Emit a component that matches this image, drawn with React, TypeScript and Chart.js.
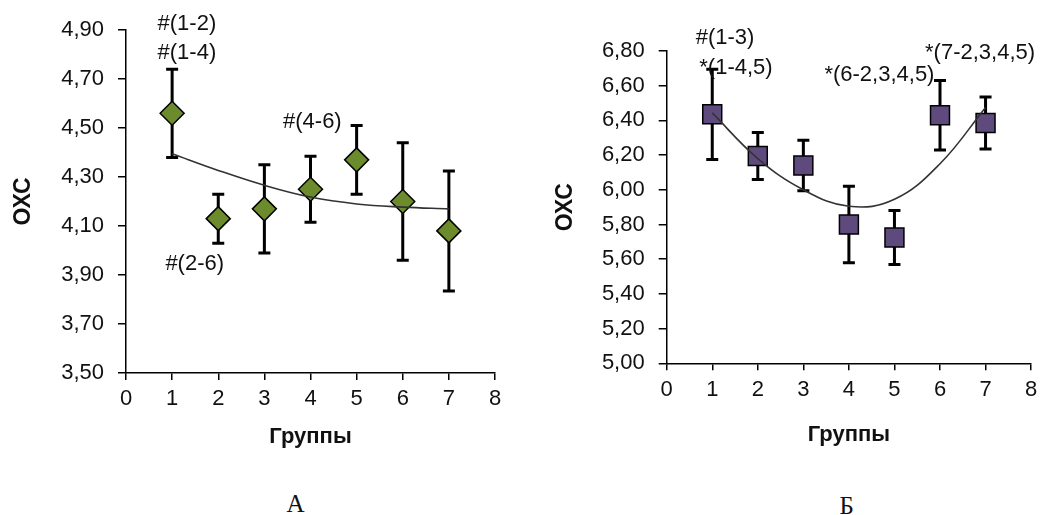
import React, { useEffect, useRef } from "react";
import { Chart, registerables } from "chart.js";

Chart.register(...registerables);

const FONT = '"Liberation Sans", Arial, Helvetica, sans-serif';
const SERIF = '"Liberation Serif", "Times New Roman", serif';

// ---- data ----
const groups = [1, 2, 3, 4, 5, 6, 7];

const oxcA = [4.56, 4.13, 4.17, 4.25, 4.37, 4.2, 4.08];
const errA = [0.18, 0.1, 0.18, 0.135, 0.14, 0.24, 0.245];
const trendA = [4.395, 4.327, 4.266, 4.218, 4.19, 4.177, 4.17];
const yTicksA = { min: 3.5, max: 4.9, step: 0.2 };
const notesTextA = ["#(1-2)", "#(1-4)", "#(4-6)", "#(2-6)"];
const notesXA = [1.32, 1.32, 4.04, 1.49];
const notesYA = [4.925, 4.806, 4.525, 3.946];

const oxcB = [6.435, 6.195, 6.14, 5.8, 5.725, 6.43, 6.385];
const errB = [0.26, 0.135, 0.145, 0.22, 0.155, 0.2, 0.15];
const trendB = [6.443, 6.18, 6.0, 5.905, 5.945, 6.15, 6.475];
const yTicksB = { min: 5.0, max: 6.8, step: 0.2 };
const notesTextB = ["#(1-3)", "*(1-4,5)", "*(6-2,3,4,5)", "*(7-2,3,4,5)"];
const notesXB = [1.28, 1.52, 4.67, 6.88];
const notesYB = [6.875, 6.702, 6.662, 6.787];

type PanelProps = {
  values: number[];
  errors: number[];
  trend: number[];
  yr: { min: number; max: number; step: number };
  notesText: string[];
  notesX: number[];
  notesY: number[];
  color: string;
  pointStyle: string;
  radius: number;
  left: number;
  width: number;
  height: number;
  padTop: number;
  padRight: number;
  yAxisWidth: number;
  xAxisHeight: number;
  yTitlePad: number;
  xTitlePad: number;
};

function Panel(p: PanelProps) {
  const ref = useRef<HTMLCanvasElement | null>(null);
  useEffect(() => {
    if (!ref.current) return;
    const errorBars = {
      id: "errorBars",
      beforeDatasetsDraw(chart: any) {
        const { ctx } = chart;
        const x = chart.scales.x;
        const y = chart.scales.y;
        ctx.save();
        ctx.strokeStyle = "#000";
        ctx.lineWidth = 3;
        p.values.forEach((v, i) => {
          const px = x.getPixelForValue(groups[i]);
          const top = y.getPixelForValue(v + p.errors[i]);
          const bot = y.getPixelForValue(v - p.errors[i]);
          ctx.beginPath();
          ctx.moveTo(px, top);
          ctx.lineTo(px, bot);
          ctx.moveTo(px - 6, top);
          ctx.lineTo(px + 6, top);
          ctx.moveTo(px - 6, bot);
          ctx.lineTo(px + 6, bot);
          ctx.stroke();
        });
        ctx.restore();
      },
    };
    const notes = {
      id: "notes",
      afterDraw(chart: any) {
        const { ctx } = chart;
        const x = chart.scales.x;
        const y = chart.scales.y;
        ctx.save();
        ctx.font = `22px ${FONT}`;
        ctx.fillStyle = "#111";
        ctx.textAlign = "center";
        ctx.textBaseline = "middle";
        p.notesText.forEach((t, i) => {
          ctx.fillText(t, x.getPixelForValue(p.notesX[i]), y.getPixelForValue(p.notesY[i]));
        });
        ctx.restore();
      },
    };
    const chart = new Chart(ref.current, {
      type: "scatter",
      data: {
        datasets: [
          {
            type: "line",
            data: groups.map((g, i) => ({ x: g, y: p.trend[i] })),
            borderColor: "#333",
            borderWidth: 1.6,
            pointRadius: 0,
            tension: 0.4,
            fill: false,
            order: 0,
          } as any,
          {
            data: groups.map((g, i) => ({ x: g, y: p.values[i] })),
            pointStyle: p.pointStyle as any,
            pointRadius: p.radius,
            pointBackgroundColor: p.color,
            pointBorderColor: "#000",
            pointBorderWidth: 1.5,
            showLine: false,
            order: 1,
          },
        ],
      },
      options: {
        responsive: false,
        animation: false,
        events: [],
        layout: { padding: { left: 0, top: p.padTop, right: p.padRight, bottom: 0 } },
        plugins: { legend: { display: false }, tooltip: { enabled: false } },
        scales: {
          x: {
            type: "linear",
            min: 0,
            max: 8,
            ticks: { stepSize: 1, padding: 6, color: "#111", font: { family: FONT, size: 22 } },
            grid: { display: true, drawOnChartArea: false, drawTicks: true, tickLength: 7, color: "#000", lineWidth: 1.5 },
            border: { display: true, color: "#000", width: 1.5 },
            title: {
              display: true,
              text: "Группы",
              color: "#111",
              font: { family: FONT, size: 22, weight: "bold" },
              padding: { top: 0, bottom: p.xTitlePad },
            },
            afterFit: (s: any) => {
              s.height = p.xAxisHeight;
            },
          },
          y: {
            type: "linear",
            min: p.yr.min,
            max: p.yr.max,
            ticks: {
              stepSize: p.yr.step,
              padding: 14,
              color: "#111",
              font: { family: FONT, size: 22 },
              callback: (v: any) => Number(v).toFixed(2).replace(".", ","),
            },
            grid: { display: true, drawOnChartArea: false, drawTicks: true, tickLength: 8, color: "#000", lineWidth: 1.5 },
            border: { display: true, color: "#000", width: 1.5 },
            title: {
              display: true,
              text: "ОХС",
              color: "#111",
              font: { family: FONT, size: 23, weight: "bold" },
              padding: { top: p.yTitlePad, bottom: 0 },
            },
            afterFit: (s: any) => {
              s.width = p.yAxisWidth;
            },
          },
        },
      },
      plugins: [errorBars, notes],
    } as any);
    return () => chart.destroy();
  }, []);
  return (
    <canvas
      ref={ref}
      width={p.width}
      height={p.height}
      style={{ position: "absolute", left: p.left, top: 0, width: p.width, height: p.height }}
    />
  );
}

export default function App() {
  return (
    <div style={{ position: "fixed", left: 0, top: 0, width: 1046, height: 515, background: "#fff", overflow: "hidden" }}>
      <Panel
        values={oxcA}
        errors={errA}
        trend={trendA}
        yr={yTicksA}
        notesText={notesTextA}
        notesX={notesXA}
        notesY={notesYA}
        color="#6b8b2d"
        pointStyle="rectRot"
        radius={12}
        left={0}
        width={530}
        height={470}
        padTop={30}
        padRight={35}
        yAxisWidth={126}
        xAxisHeight={97}
        yTitlePad={9.5}
        xTitlePad={19.8}
      />
      <Panel
        values={oxcB}
        errors={errB}
        trend={trendB}
        yr={yTicksB}
        notesText={notesTextB}
        notesX={notesXB}
        notesY={notesYB}
        color="#5f4a7e"
        pointStyle="rect"
        radius={13.4}
        left={540}
        width={506}
        height={470}
        padTop={51}
        padRight={9.3}
        yAxisWidth={126.7}
        xAxisHeight={106.7}
        yTitlePad={11.5}
        xTitlePad={21.8}
      />
      <div style={{ position: "absolute", left: 295.5, top: 503, transform: "translate(-50%,-50%)", fontFamily: SERIF, fontSize: 25, lineHeight: 1, color: "#111" }}>
        А
      </div>
      <div style={{ position: "absolute", left: 846.7, top: 505, transform: "translate(-50%,-50%)", fontFamily: SERIF, fontSize: 25, lineHeight: 1, color: "#111" }}>
        Б
      </div>
    </div>
  );
}
